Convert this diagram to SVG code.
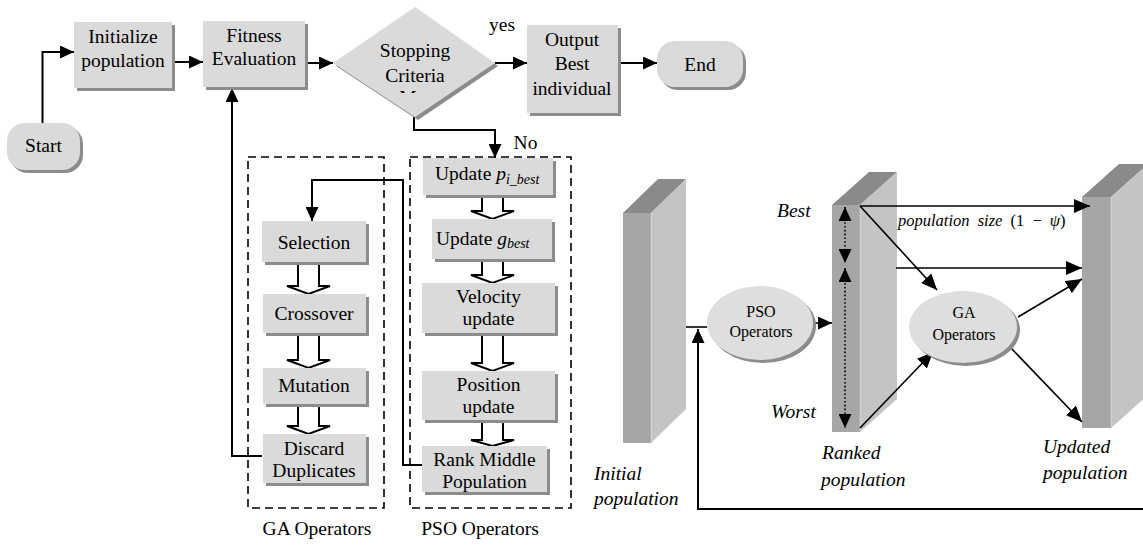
<svg xmlns="http://www.w3.org/2000/svg" width="1143" height="548" viewBox="0 0 1143 548">
<style>
text{font-family:'Liberation Serif','Tinos','Times New Roman','DejaVu Serif','Noto Serif',serif}
.t{font-size:19.5px;fill:#000;text-anchor:middle}
.ti{font-size:19.5px;font-style:italic;fill:#000}
.s{font-size:16px;fill:#000;text-anchor:middle}
.box{fill:#dadada}
.sh{fill:#8c8c8c}
.ln{fill:none;stroke:#000;stroke-width:2}
.ln2{fill:none;stroke:#000;stroke-width:1.6}
.blk{fill:#fff;stroke:#000;stroke-width:2;stroke-linejoin:miter}
.dash{fill:none;stroke:#000;stroke-width:1.6;stroke-dasharray:8 5}
.dot{fill:none;stroke:#000;stroke-width:1.6;stroke-dasharray:1.6 2.2}
.fr{fill:#a6a6a6}
.sd{fill:#c4c4c4}
.tp{fill:#8a8a8a}
.edge{stroke:#d2d2d2;stroke-width:1.5}
</style>
<defs>
<marker id="ah" markerUnits="userSpaceOnUse" markerWidth="14" markerHeight="13" refX="14" refY="6.5" orient="auto" viewBox="0 0 14 13"><path d="M0,0 L14,6.5 L0,13 z" fill="#000"/></marker>
<marker id="ah2" markerUnits="userSpaceOnUse" markerWidth="16" markerHeight="14" refX="16" refY="7" orient="auto" viewBox="0 0 16 14"><path d="M0,0 L16,7 L0,14 z" fill="#000"/></marker>
<marker id="ad" markerUnits="userSpaceOnUse" markerWidth="14" markerHeight="13" refX="14" refY="6.5" orient="auto-start-reverse" viewBox="0 0 14 13"><path d="M0,0 L14,6.5 L0,13 z" fill="#000"/></marker>
<clipPath id="metclip"><rect x="380" y="80" width="70" height="13"/></clipPath>
</defs>

<!-- population slabs -->
<g id="initial-population">
<polygon class="tp" points="623,213 658,179 686,179 651,213"/>
<polygon class="sd" points="651,213 686,179 686,409 651,443"/>
<rect class="fr" x="623" y="213" width="28" height="230"/>
<line class="edge" x1="651.5" y1="213" x2="651.5" y2="443"/>
<text class="ti" x="594" y="480">Initial</text>
<text class="ti" x="594" y="505">population</text>
</g>
<g id="ranked-population">
<polygon class="tp" points="832,205 869,172 897,172 860,205"/>
<polygon class="sd" points="860,205 897,172 897,399 860,432"/>
<rect class="fr" x="832" y="205" width="28" height="227"/>
<line class="edge" x1="860.5" y1="205" x2="860.5" y2="432"/>
<text class="ti" x="777" y="217">Best</text>
<text class="ti" x="771" y="418">Worst</text>
<text class="ti" x="822" y="459">Ranked</text>
<text class="ti" x="821" y="486">population</text>
</g>
<g id="updated-population">
<polygon class="tp" points="1082,197 1119,164 1148,164 1111,197"/>
<polygon class="sd" points="1111,197 1148,164 1148,395 1111,428"/>
<rect class="fr" x="1082" y="197" width="29" height="231"/>
<line class="edge" x1="1111.5" y1="197" x2="1111.5" y2="428"/>
<text class="ti" x="1043" y="453">Updated</text>
<text class="ti" x="1043" y="479">population</text>
</g>

<!-- connectors -->
<g id="connectors">
<path class="ln" d="M42.5,123 V52 H74" marker-end="url(#ah)"/>
<path class="ln" d="M172,62 H203" marker-end="url(#ah)"/>
<path class="ln" d="M305,63 H333" marker-end="url(#ah)"/>
<path class="ln" d="M495,63 H527" marker-end="url(#ah)"/>
<path class="ln" d="M618,63 H657" marker-end="url(#ah)"/>
<path class="ln" d="M414,117 V130 H495 V158" marker-end="url(#ah)"/>
<path class="ln" d="M262,456 H232 V88" marker-end="url(#ah)"/>
<path class="ln" d="M422,465 H403 V180 H312 V221" marker-end="url(#ah)"/>
<!-- block arrows GA -->
<polygon class="blk" points="298,262 319,262 319,286 330,286 308.5,294 287,286 298,286"/>
<polygon class="blk" points="298,332 319,332 319,360 330,360 308.5,368 287,360 298,360"/>
<polygon class="blk" points="298,404 319,404 319,426 330,426 308.5,434 287,426 298,426"/>
<!-- block arrows PSO -->
<polygon class="blk" points="482,195 503,195 503,211 514,211 492.5,219 471,211 482,211"/>
<polygon class="blk" points="482,258 503,258 503,275 514,275 492.5,283 471,275 482,275"/>
<polygon class="blk" points="482,333 503,333 503,363 514,363 492.5,371 471,363 482,363"/>
<polygon class="blk" points="482,420 503,420 503,440 514,440 492.5,446 471,440 482,440"/>
<!-- dashed groups -->
<rect class="dash" x="248" y="157" width="136" height="351"/>
<rect class="dash" x="410" y="157" width="161" height="351"/>
<!-- right part -->
<path class="ln2" d="M686,327 H707"/>
<path class="ln" d="M1143,509 H698 V329" marker-end="url(#ah)"/>
<path class="ln2" d="M813,323 H832" marker-end="url(#ah)"/>
<path class="ln2" d="M860,206 H1090" marker-end="url(#ah2)"/>
<path class="ln2" d="M860,206 L937,290" marker-end="url(#ah2)"/>
<path class="ln2" d="M896,268 H1082" marker-end="url(#ah2)"/>
<path class="ln2" d="M860,428 L933,352" marker-end="url(#ah2)"/>
<path class="ln2" d="M1018,317 L1082,279" marker-end="url(#ah2)"/>
<path class="ln2" d="M1010,347 L1082,422" marker-end="url(#ah2)"/>
<path class="dot" d="M845,207 V263" marker-start="url(#ad)" marker-end="url(#ad)"/>
<path class="dot" d="M845,268 V428" marker-start="url(#ad)" marker-end="url(#ad)"/>
</g>

<g id="start">
<rect class="sh" x="10" y="126" width="73" height="47" rx="18"/>
<rect class="box" x="7" y="123" width="73" height="47" rx="18"/>
<text class="t" x="43.5" y="152">Start</text>
</g>
<g id="initialize">
<rect class="sh" x="77" y="25" width="98" height="66"/>
<rect class="box" x="74" y="22" width="98" height="66"/>
<text class="t" x="123" y="43">Initialize</text>
<text class="t" x="123" y="67">population</text>
</g>
<g id="fitness">
<rect class="sh" x="206" y="24" width="102" height="66"/>
<rect class="box" x="203" y="21" width="102" height="66"/>
<text class="t" x="254" y="42">Fitness</text>
<text class="t" x="254" y="65">Evaluation</text>
</g>
<g id="stopping">
<polygon class="sh" points="336,66 418,10 498,66 418,120"/>
<polygon class="box" points="333,63 415,7 495,63 415,117"/>
<text class="t" x="415" y="57">Stopping</text>
<text class="t" x="415" y="82">Criteria</text>
<text class="t" x="415" y="104" clip-path="url(#metclip)">Met</text>
<text class="t" x="502" y="31">yes</text>
<text class="t" x="525.5" y="149">No</text>
</g>
<g id="output">
<rect class="sh" x="530" y="28" width="91" height="88"/>
<rect class="box" x="527" y="25" width="91" height="88"/>
<text class="t" x="572" y="46">Output</text>
<text class="t" x="572" y="70">Best</text>
<text class="t" x="572" y="95">individual</text>
</g>
<g id="end">
<rect class="sh" x="660" y="44" width="86" height="46" rx="18"/>
<rect class="box" x="657" y="41" width="86" height="46" rx="18"/>
<text class="t" x="700" y="71">End</text>
</g>

<g id="ga-operators">
<text class="t" x="317" y="535">GA Operators</text>
</g>
<g id="selection">
<rect class="sh" x="265" y="224" width="104" height="41"/>
<rect class="box" x="262" y="221" width="104" height="41"/>
<text class="t" x="314" y="249">Selection</text>
</g>
<g id="crossover">
<rect class="sh" x="266" y="297" width="103" height="39"/>
<rect class="box" x="263" y="294" width="103" height="39"/>
<text class="t" x="314" y="320">Crossover</text>
</g>
<g id="mutation">
<rect class="sh" x="266" y="371" width="103" height="36"/>
<rect class="box" x="263" y="368" width="103" height="36"/>
<text class="t" x="314" y="392">Mutation</text>
</g>
<g id="discard">
<rect class="sh" x="266" y="437" width="103" height="49"/>
<rect class="box" x="263" y="434" width="103" height="49"/>
<text class="t" x="314" y="455">Discard</text>
<text class="t" x="314" y="477">Duplicates</text>
</g>

<g id="pso-operators">
<text class="t" x="480" y="535">PSO Operators</text>
</g>
<g id="update-pbest">
<rect class="sh" x="426" y="161" width="130" height="37"/>
<rect class="box" x="423" y="158" width="130" height="37"/>
<text class="t" x="435" y="180" style="text-anchor:start">Update <tspan font-style="italic">p</tspan><tspan font-style="italic" font-size="14" dy="4">i_best</tspan></text>
</g>
<g id="update-gbest">
<rect class="sh" x="435" y="222" width="120" height="40"/>
<rect class="box" x="432" y="219" width="120" height="40"/>
<text class="t" x="436" y="245" style="text-anchor:start">Update <tspan font-style="italic">g</tspan><tspan font-style="italic" font-size="14" dy="3">best</tspan></text>
</g>
<g id="velocity">
<rect class="sh" x="425" y="286" width="133" height="50"/>
<rect class="box" x="422" y="283" width="133" height="50"/>
<text class="t" x="488.5" y="303">Velocity</text>
<text class="t" x="488.5" y="325">update</text>
</g>
<g id="position">
<rect class="sh" x="425" y="374" width="133" height="49"/>
<rect class="box" x="422" y="371" width="133" height="49"/>
<text class="t" x="488.5" y="391">Position</text>
<text class="t" x="488.5" y="413">update</text>
</g>
<g id="rank-middle">
<rect class="sh" x="425" y="449" width="125" height="46"/>
<rect class="box" x="422" y="446" width="125" height="46"/>
<text class="t" x="484.5" y="466">Rank Middle</text>
<text class="t" x="484.5" y="488">Population</text>
</g>

<g id="pso-ellipse">
<ellipse cx="763" cy="326" rx="53" ry="37" fill="#8c8c8c"/>
<ellipse cx="760" cy="323" rx="53" ry="37" fill="#dedede"/>
<text class="s" x="761" y="317">PSO</text>
<text class="s" x="761" y="337">Operators</text>
</g>
<g id="ga-ellipse">
<ellipse cx="966" cy="330" rx="54" ry="36" fill="#8c8c8c"/>
<ellipse cx="963" cy="327" rx="54" ry="36" fill="#dedede"/>
<text class="s" x="964" y="318">GA</text>
<text class="s" x="964" y="340">Operators</text>
</g>
<g id="size-label">
<text font-size="16.5" x="898" y="226" word-spacing="4"><tspan font-style="italic">population size</tspan> (1 − <tspan font-style="italic">ψ</tspan>)</text>
</g>
</svg>
